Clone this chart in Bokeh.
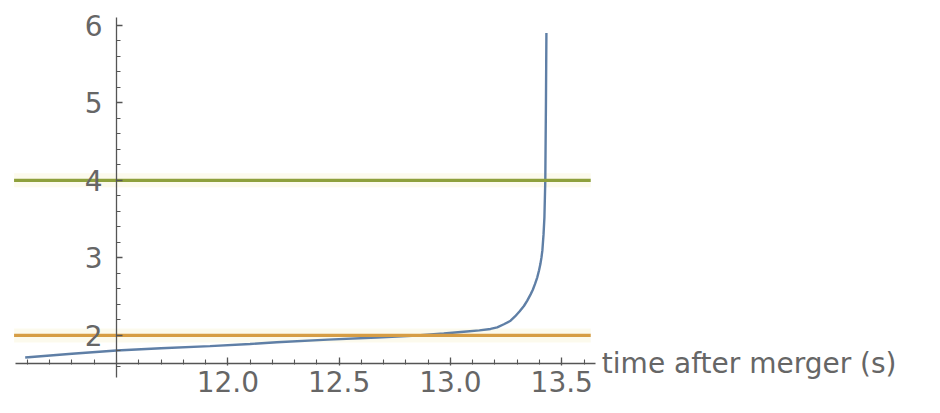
from bokeh.plotting import figure
from bokeh.models import Range1d, LinearAxis, FixedTicker, NumeralTickFormatter, Label
from bokeh.embed import file_html
from bokeh.resources import INLINE

# Tracked quantity versus time after merger (s)
t_curve = [11.09, 11.30, 11.50, 11.70, 11.92, 12.10, 12.22, 12.45, 12.67, 12.85,
           12.97, 13.06, 13.13, 13.18, 13.21, 13.24, 13.27, 13.29, 13.31, 13.33,
           13.345, 13.36, 13.37, 13.38, 13.39, 13.398, 13.404, 13.409, 13.413,
           13.418, 13.422, 13.426, 13.429, 13.431]
y_curve = [1.716, 1.765, 1.806, 1.836, 1.862, 1.890, 1.912, 1.946, 1.974, 2.000,
           2.025, 2.048, 2.066, 2.084, 2.105, 2.145, 2.190, 2.245, 2.310, 2.380,
           2.450, 2.530, 2.590, 2.665, 2.750, 2.840, 2.920, 3.010, 3.100,
           3.300, 3.520, 4.000, 5.030, 5.900]

# Horizontal reference levels and the span they are drawn over
level_span = [11.04, 13.63]
level_orange = 2.0
level_green = 4.0

x_ticks = [12.0, 12.5, 13.0, 13.5]
x_minor = [round(11.1 + 0.1 * i, 1) for i in range(26)]
y_ticks = [2, 3, 4, 5, 6]
y_minor = [round(1.6 + 0.2 * i, 1) for i in range(23)]

x_origin = 11.5
y_origin = 1.64
x_bounds = (11.0465, 13.651)
y_bounds = (1.458, 6.10)
x_title = "time after merger (s)"

AXIS_COLOR = "#555555"
TEXT_COLOR = "#666666"
FONT = "DejaVu Sans"
FONT_SIZE = "28px"

# the frame fills the whole canvas; the axes are limited by their bounds
p = figure(width=940, height=413,
           x_range=Range1d(10.9791, 15.2010), y_range=Range1d(0.9938, 6.3192),
           x_axis_type=None, y_axis_type=None,
           output_backend="svg", toolbar_location=None,
           min_border_left=0, min_border_right=0,
           min_border_top=0, min_border_bottom=0)
p.outline_line_color = None
p.background_fill_color = "white"
p.border_fill_color = "white"

# soft glow around the level lines
for lvl in (level_orange, level_green):
    p.line(level_span, [lvl, lvl], line_color="#f6ecc0", line_width=14, line_alpha=0.28)

p.line(t_curve, y_curve, line_color="#5f7fa6", line_width=2.4)
p.line(level_span, [level_orange, level_orange], line_color="#d69d45", line_width=3.2)
p.line(level_span, [level_green, level_green], line_color="#8ea03c", line_width=3.2)

xaxis = LinearAxis(fixed_location=y_origin, bounds=x_bounds,
                   ticker=FixedTicker(ticks=x_ticks, minor_ticks=x_minor),
                   formatter=NumeralTickFormatter(format="0.0"))
yaxis = LinearAxis(fixed_location=x_origin, bounds=y_bounds,
                   ticker=FixedTicker(ticks=y_ticks, minor_ticks=y_minor),
                   formatter=NumeralTickFormatter(format="0"))

for ax in (xaxis, yaxis):
    ax.axis_line_color = AXIS_COLOR
    ax.axis_line_width = 1.3
    ax.major_tick_line_color = AXIS_COLOR
    ax.minor_tick_line_color = AXIS_COLOR
    ax.major_tick_line_width = 1.3
    ax.minor_tick_line_width = 1.1
    ax.major_label_text_color = TEXT_COLOR
    ax.major_label_text_font = FONT
    ax.major_label_text_font_size = FONT_SIZE

xaxis.major_tick_in = 6
xaxis.major_tick_out = 2
xaxis.minor_tick_in = 4
xaxis.minor_tick_out = 1
xaxis.major_label_standoff = 6

yaxis.major_tick_in = 6
yaxis.major_tick_out = 0
yaxis.minor_tick_in = 4
yaxis.minor_tick_out = 0
yaxis.major_label_standoff = 14

p.add_layout(xaxis, "below")
p.add_layout(yaxis, "left")

p.add_layout(Label(x=13.68, y=y_origin, text=x_title,
                   text_align="left", text_baseline="middle",
                   text_color=TEXT_COLOR, text_font=FONT, text_font_size=FONT_SIZE))

open("out.html", "w").write(file_html(p, INLINE))
